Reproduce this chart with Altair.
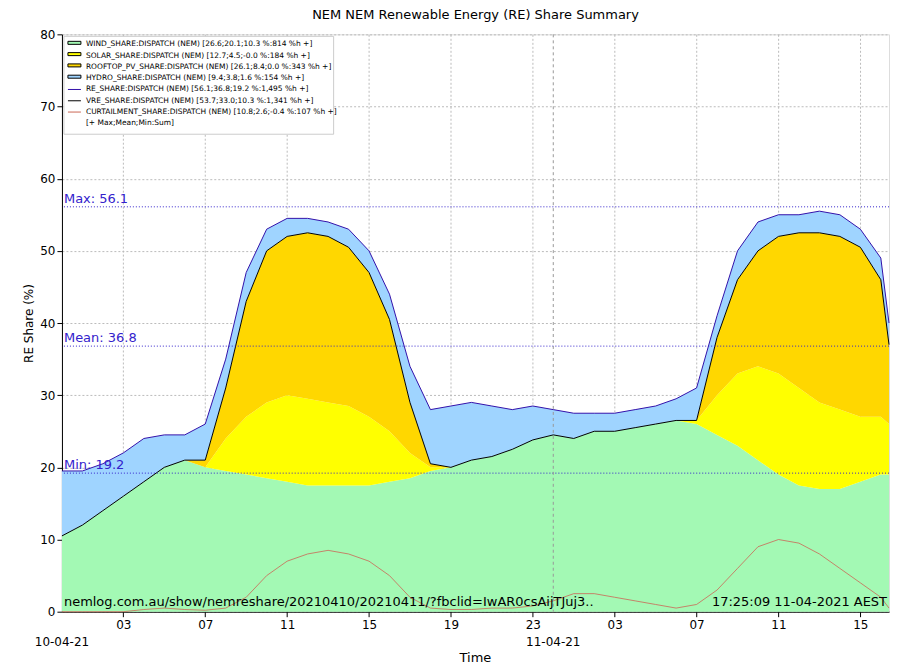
import altair as alt
import pandas as pd

hours = list(range(41)) + [40.4]
wind = [10.5,12,14,16,18,20,21,20,19.5,19,18.5,18,17.5,17.5,17.5,17.5,18,18.5,19.5,20,21,21.5,22.5,23.8,24.5,24,25,25,25.5,26,26.5,26,24.5,23,21,19,17.5,17,17,18,19,19]
wind_solar = [10.5,12,14,16,18,20,21,20,24,27,29,30,29.5,29,28.5,27,25,22,20,20,21,21.5,22.5,23.8,24.5,24,25,25,25.5,26,26.5,26.5,30,33,34,33,31,29,28,27,27,26]
vre = [10.5,12,14,16,18,20,21,21,31,43,50,52,52.5,52,50.5,47,40.5,29,20.5,20,21,21.5,22.5,23.8,24.5,24,25,25,25.5,26,26.5,26.5,38,46,50,52,52.5,52.5,52,50.5,46,37]
re = [19.5,19.5,20.5,22,24,24.5,24.5,26,35,47,53,54.5,54.5,54,53,50,44,34,28,28.5,29,28.5,28,28.5,28,27.5,27.5,27.5,28,28.5,29.5,31,41,50,54,55,55,55.5,55,53,49,40]
curt = [0,0,0,0,0.3,0.5,0.3,0.2,0.5,2,5,7,8,8.5,8,7,5,2,0.5,0.3,0.3,0.5,0.5,0.8,1.5,2.5,2.5,2,1.5,1,0.5,1,3,6,9,10,9.5,8,6,4,2,0.5]

solar = [a-b for a, b in zip(wind_solar, wind)]
rooftop = [a-b for a, b in zip(vre, wind_solar)]
hydro = [a-b for a, b in zip(re, vre)]

series = ["WIND", "SOLAR", "ROOFTOP", "HYDRO"]
colors = ["#a3f9b4", "#ffff00", "#ffd700", "#9fd4ff"]
rows = []
for i, h in enumerate(hours):
    for k, (name, vals) in enumerate(zip(series, [wind, solar, rooftop, hydro])):
        rows.append({"t": h, "s": name, "v": vals[i], "o": k})
df = pd.DataFrame(rows)
lines = pd.DataFrame({"t": hours, "re": re, "vre": vre, "curt": curt})

W, H = 828, 578
xs = alt.Scale(domain=[0, 40.4], nice=False, zero=False)
ys = alt.Scale(domain=[0, 80], nice=False)

area = alt.Chart(df).mark_area(interpolate="linear").encode(
    x=alt.X("t:Q", scale=xs, axis=alt.Axis(values=[3,7,11,15,19,23,27,31,35,39],
        labelExpr="(datum.value%24<10?'0':'')+(datum.value%24)", title=None,
        grid=True, gridDash=[2,2], gridColor="#bbbbbb", labelFontSize=12, labelPadding=3,
        tickColor="black", domainColor="black", labelColor="black")),
    y=alt.Y("v:Q", stack="zero", scale=ys, axis=alt.Axis(values=list(range(0,81,10)),
        title="RE Share (%)", grid=True, gridDash=[2,2], gridColor="#bbbbbb",
        labelFontSize=12, titleFontSize=12, titleFontWeight="normal", titleColor="black",
        labelColor="black", tickColor="black", domainColor="black")),
    color=alt.Color("s:N", scale=alt.Scale(domain=series, range=colors), legend=None),
    order=alt.Order("o:Q"),
)
re_line = alt.Chart(lines).mark_line(color="#3311aa", strokeWidth=1).encode(x=alt.X("t:Q", scale=xs), y=alt.Y("re:Q", scale=ys))
vre_line = alt.Chart(lines).mark_line(color="#000000", strokeWidth=1).encode(x=alt.X("t:Q", scale=xs), y=alt.Y("vre:Q", scale=ys))
curt_line = alt.Chart(lines).mark_line(color="#cc6655", strokeWidth=0.8).encode(x=alt.X("t:Q", scale=xs), y=alt.Y("curt:Q", scale=ys))

stats = pd.DataFrame({"v": [56.1, 36.8, 19.2], "lab": ["Max: 56.1", "Mean: 36.8", "Min: 19.2"]})
srule = alt.Chart(stats).mark_rule(color="#3322cc", strokeDash=[1,2], strokeWidth=1).encode(y=alt.Y("v:Q", scale=ys))
stext = alt.Chart(stats).mark_text(color="#3322cc", align="left", baseline="bottom", dx=2, dy=-1, fontSize=13).encode(
    x=alt.value(0), y=alt.Y("v:Q", scale=ys), text="lab:N")

mid = alt.Chart(pd.DataFrame({"t": [24]})).mark_rule(color="#999999", strokeDash=[3,3]).encode(x=alt.X("t:Q", scale=xs))

dates = pd.DataFrame({"t": [0, 24], "lab": ["10-04-21", "11-04-21"]})
dtext = alt.Chart(dates).mark_text(fontSize=12, baseline="top").encode(
    x=alt.X("t:Q", scale=xs), y=alt.value(H + 25), text="lab:N")
ttl = alt.Chart(pd.DataFrame({"a": ["Time"]})).mark_text(fontSize=13, baseline="top").encode(
    x=alt.value(W/2), y=alt.value(H + 40), text="a:N")

wm1 = alt.Chart(pd.DataFrame({"a": ["nemlog.com.au/show/nemreshare/20210410/20210411/?fbclid=IwAR0csAijTJuj3.."]})).mark_text(
    align="left", fontSize=13, baseline="bottom").encode(x=alt.value(2), y=alt.value(H-3), text="a:N")
wm2 = alt.Chart(pd.DataFrame({"a": ["17:25:09 11-04-2021 AEST"]})).mark_text(
    align="right", fontSize=13, baseline="bottom").encode(x=alt.value(W-2), y=alt.value(H-3), text="a:N")

leg_labels = ["WIND_SHARE:DISPATCH (NEM) [26.6;20.1;10.3 %:814 %h +]",
              "SOLAR_SHARE:DISPATCH (NEM) [12.7;4.5;-0.0 %:184 %h +]",
              "ROOFTOP_PV_SHARE:DISPATCH (NEM) [26.1;8.4;0.0 %:343 %h +]",
              "HYDRO_SHARE:DISPATCH (NEM) [9.4;3.8;1.6 %:154 %h +]",
              "RE_SHARE:DISPATCH (NEM) [56.1;36.8;19.2 %:1,495 %h +]",
              "VRE_SHARE:DISPATCH (NEM) [53.7;33.0;10.3 %:1,341 %h +]",
              "CURTAILMENT_SHARE:DISPATCH (NEM) [10.8;2.6;-0.4 %:107 %h +]",
              "[+ Max;Mean;Min:Sum]"]
leg_colors = colors + ["#3311aa", "#000000", "#cc6655", "#ffffff"]
leg = pd.DataFrame({"lab": leg_labels, "c": leg_colors, "i": list(range(8))})
leg["y"] = 10 + leg["i"] * 11.3
legbox = alt.Chart(pd.DataFrame({"a": [1]})).mark_rect(fill="white", stroke="#cccccc").encode(
    x=alt.value(2), x2=alt.value(272), y=alt.value(2), y2=alt.value(100))
sw = alt.Chart(leg.iloc[:4]).mark_rect(stroke="black", strokeWidth=1).encode(
    x=alt.value(6), x2=alt.value(19), y=alt.Y("y:Q", scale=None), y2=alt.Y2("y2:Q"),
    fill=alt.Fill("c:N", scale=None)).transform_calculate(y="datum.y-3", y2="datum.y+3")
ln = alt.Chart(leg.iloc[4:7]).mark_rule(strokeWidth=1).encode(
    x=alt.value(6), x2=alt.value(19), y=alt.Y("y:Q", scale=None), color=alt.Color("c:N", scale=None))
lt = alt.Chart(leg).mark_text(align="left", fontSize=7.5, baseline="middle").encode(
    x=alt.value(24), y=alt.Y("y:Q", scale=None), text="lab:N")

chart = alt.layer(area, curt_line, vre_line, re_line, srule, stext, mid, wm1, wm2,
                  legbox, sw, ln, lt, dtext, ttl).properties(
    width=W, height=H,
    title=alt.Title("NEM NEM Renewable Energy (RE) Share Summary", fontSize=13, fontWeight="normal", color="black", offset=6),
    autosize=alt.AutoSizeParams(type="none"),
    padding={"left": 54, "top": 26, "right": 10, "bottom": 56},
).configure_view(stroke="black").configure(font="DejaVu Sans")

chart.save("out.html", embed_options={"renderer": "svg", "actions": False})
